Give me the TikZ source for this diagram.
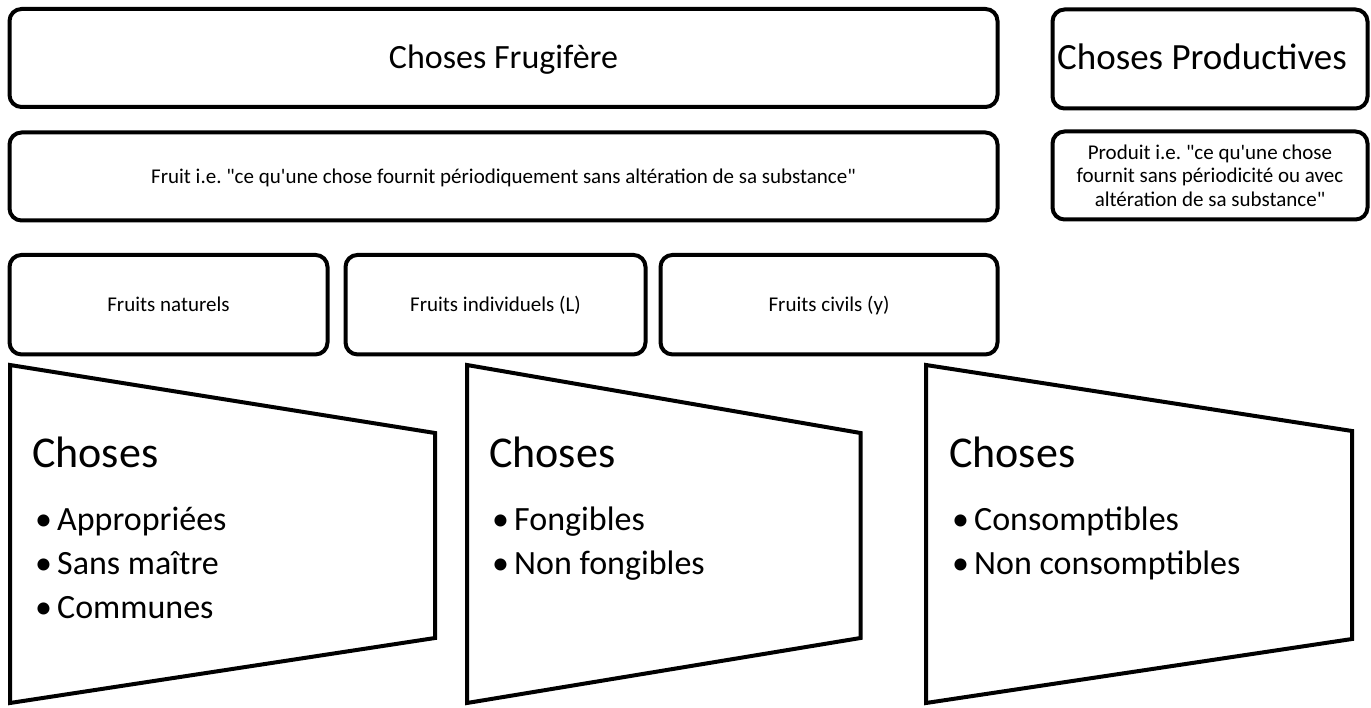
\documentclass[tikz,border=0pt]{standalone}
\usepackage{fontspec}
\setmainfont{Carlito}[Ligatures=TeXOff]
\usepackage{tikz}
\usepackage{xcolor}

\tikzset{
  box/.style={draw, line width=4pt, rounded corners=12pt, inner sep=0pt, align=center},
  titletxt/.style={text height=22.4pt, text depth=1.4pt, font=\fontsize{34}{40}\selectfont},
  smalltxt/.style={font=\fontsize{21}{23.5}\selectfont},
  oneline/.style={text height=13.9pt, text depth=0.8pt},
  trap/.style={draw, line width=4pt, fill=white},
  bigtxt/.style={inner sep=0pt, anchor=base west, font=\fontsize{44}{50}\selectfont},
  itemtxt/.style={inner sep=0pt, anchor=base west, font=\fontsize{34}{40}\selectfont},
}
\newcommand{\puce}[1]{\makebox[22pt][l]{\textbullet}#1}

\begin{document}
\frenchspacing
\begin{tikzpicture}[x=1pt, y=-1pt]
            \useasboundingbox (0,0) rectangle (1371,708);

            % top row
            \node[box, titletxt, minimum width=988pt, minimum height=98pt] (frug) at (503.5,58) {Choses Frugifère};
            \node[box, titletxt, font=\fontsize{37}{42}\selectfont, minimum width=315pt, minimum height=99pt] (prod) at (1210,59) {Choses Productives\hspace*{16pt}};

            % second row
            \node[box, smalltxt, oneline, minimum width=988pt, minimum height=88pt] (fruit) at (503.5,176.5)
                {Fruit i.e. "ce qu'une chose fournit périodiquement sans altération de sa substance"};
            \node[box, smalltxt, minimum width=315pt, minimum height=88pt] (produit) at (1210,175.5)
                {Produit i.e. "ce qu'une chose\\fournit sans périodicité ou avec\\altération de sa substance"};

            % third row
            \node[box, smalltxt, oneline, minimum width=318pt, minimum height=99.5pt] (nat) at (168.5,304.7) {Fruits naturels};
            \node[box, smalltxt, oneline, minimum width=300pt, minimum height=99.5pt] (indiv) at (495.5,304.7) {Fruits individuels (L)};
            \node[box, smalltxt, oneline, minimum width=337pt, minimum height=99.5pt] (civ) at (829,304.7) {Fruits civils (y)};

            % trapezoids
            \draw[trap] (10,365) -- (435,433) -- (435,638) -- (10,703) -- cycle;
            \draw[trap] (467,365) -- (860.5,433) -- (860.5,638) -- (467,703) -- cycle;
            \draw[trap] (926,365) -- (1352,431) -- (1352,639) -- (926,703) -- cycle;

            \node[bigtxt] (ch1) at (32,467) {Choses};
            \node[itemtxt] (app) at (35,530) {\puce{Appropriées}};
            \node[itemtxt] (sm) at (35,574) {\puce{Sans maître}};
            \node[itemtxt] (com) at (35,618) {\puce{Communes}};

            \node[bigtxt] (ch2) at (489,467) {Choses};
            \node[itemtxt] (fon) at (492,530) {\puce{Fongibles}};
            \node[itemtxt] (nfon) at (492,574) {\puce{Non fongibles}};

            \node[bigtxt] (ch3) at (949,467) {Choses};
            \node[itemtxt] (cons) at (952,530) {\puce{Consomptibles}};
            \node[itemtxt] (ncons) at (952,574) {\puce{Non consomptibles}};
        \end{tikzpicture}
\end{document}
